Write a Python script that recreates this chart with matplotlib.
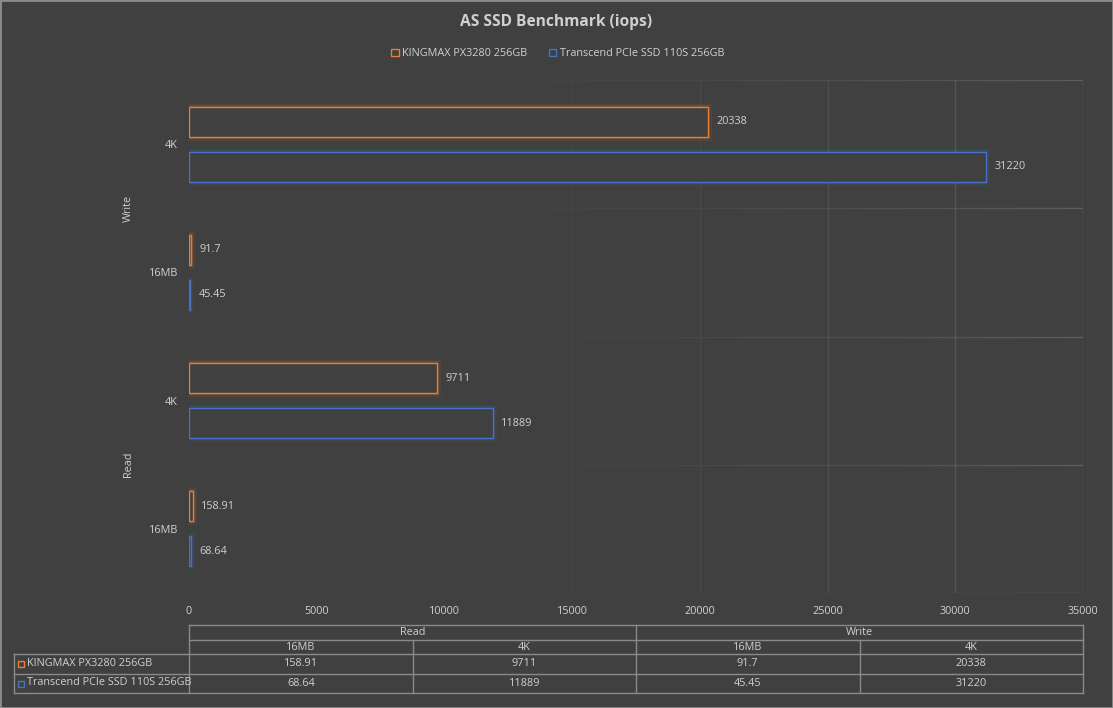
import matplotlib
matplotlib.use('Agg')
import matplotlib.pyplot as plt
import matplotlib.patheffects as pe
from matplotlib.patches import Patch, Rectangle
from matplotlib.collections import LineCollection
from matplotlib.transforms import blended_transform_factory
import numpy as np

plt.rcParams['font.family'] = ['Open Sans', 'DejaVu Sans']

# data
groups = ['Read', 'Write']
sizes = ['16MB', '4K']
series = ['KINGMAX PX3280 256GB', 'Transcend PCIe SSD 110S 256GB']
kingmax = [158.91, 9711, 91.7, 20338]     # Read 16MB, Read 4K, Write 16MB, Write 4K
transcend = [68.64, 11889, 45.45, 31220]
x_ticks = [0, 5000, 10000, 15000, 20000, 25000, 30000, 35000]

BG = '#404040'
TXT = '#d0d0d0'
ORANGE = '#ED7D31'
BLUE = '#4472C4'
FS = 7.8
W, H = 1113, 708


def glow(color):
  return [pe.Stroke(linewidth=5, foreground=color, alpha=0.08),
          pe.Stroke(linewidth=3, foreground=color, alpha=0.15),
          pe.Normal()]


def grad_line(ax, xs, ys, n=80):
  # grid lines fade out towards the left
  xx = np.linspace(xs[0], xs[1], n)
  yy = np.linspace(ys[0], ys[1], n)
  pts = np.column_stack([xx, yy])
  segs = np.stack([pts[:-1], pts[1:]], axis=1)
  xm = (xx[:-1] + xx[1:]) / 2
  a = np.clip(xm / x_ticks[-1], 0, 1) ** 2.2
  cols = [(0.37, 0.37, 0.37, v) for v in a]
  ax.add_collection(LineCollection(segs, colors=cols, linewidths=1, zorder=0))


def barchart():
  fig = plt.figure(figsize=(W / 100, H / 100), dpi=100, facecolor=BG)
  ax = fig.add_axes([189 / W, 115 / H, 894 / W, 513 / H], facecolor=BG)

  n = len(kingmax)
  pos = np.arange(n)
  h = 0.234
  off = 0.176

  ob = ax.barh(pos + off, kingmax, height=h, facecolor=BG, edgecolor=ORANGE, linewidth=1.0, zorder=3)
  bb = ax.barh(pos - off, transcend, height=h, facecolor=BG, edgecolor=BLUE, linewidth=1.0, zorder=3)
  for p in ob:
    p.set_path_effects(glow(ORANGE))
  for p in bb:
    p.set_path_effects(glow(BLUE))

  for y, v in zip(pos + off, kingmax):
    ax.annotate(f'{v:g}', (v, y), xytext=(6, 0), textcoords='offset points',
                va='center', ha='left', fontsize=FS, color=TXT)
  for y, v in zip(pos - off, transcend):
    ax.annotate(f'{v:g}', (v, y), xytext=(6, 0), textcoords='offset points',
                va='center', ha='left', fontsize=FS, color=TXT)

  ax.set_xlim(x_ticks[0], x_ticks[-1])
  ax.set_ylim(-0.5, n - 0.5)
  ax.set_xticks(x_ticks)
  ax.set_yticks(pos)
  ax.set_yticklabels(sizes * len(groups))
  ax.tick_params(axis='both', length=0, colors=TXT, labelsize=FS)
  ax.tick_params(axis='x', pad=9)
  ax.tick_params(axis='y', pad=8)
  for s in ax.spines.values():
    s.set_visible(False)

  for yv in np.arange(-0.5, n, 1.0):
    grad_line(ax, (x_ticks[0], x_ticks[-1]), (yv, yv))
  for xv in x_ticks[1:]:
    grad_line(ax, (xv, xv), (-0.5, n - 0.5), n=2)

  tr = blended_transform_factory(fig.transFigure, ax.transData)
  for i, g in enumerate(groups):
    fig.text(128 / W, i * 2 + 0.5, g, transform=tr, rotation=90, ha='center', va='center',
             fontsize=FS, color=TXT)

  fig.text(0.5, 1 - 22 / H, 'AS SSD Benchmark (iops)', ha='center', va='center',
           fontsize=11.2, fontweight='bold', color=TXT)
  handles = [Patch(facecolor='none', edgecolor=ORANGE, label=series[0]),
             Patch(facecolor='none', edgecolor=BLUE, label=series[1])]
  fig.legend(handles=handles, loc='center', bbox_to_anchor=(558 / W, 1 - 54 / H), ncol=2,
             frameon=False, fontsize=FS, labelcolor=TXT, handlelength=0.65, handleheight=0.65,
             handletextpad=0.35, columnspacing=2.0)

  # data table under the chart
  tax = fig.add_axes([0, 0, 1, 1])
  tax.set_xlim(0, W)
  tax.set_ylim(H, 0)
  tax.axis('off')
  x0, x1 = 189, 1083
  ncol = len(groups) * len(sizes)
  cw = (x1 - x0) / ncol
  rows = [625, 640, 654, 674, 693]
  lc = '#8a8a8a'
  kw = dict(color=lc, lw=1)
  tax.plot([x0, x1], [rows[0], rows[0]], **kw)
  tax.plot([x0, x1], [rows[1], rows[1]], **kw)
  for r in rows[2:]:
    tax.plot([14, x1], [r, r], **kw)
  tax.plot([14, 14], [rows[2], rows[4]], **kw)
  tax.plot([x0, x0], [rows[0], rows[4]], **kw)
  tax.plot([x1, x1], [rows[0], rows[4]], **kw)
  for gi, g in enumerate(groups):
    gx = x0 + gi * len(sizes) * cw
    if gi > 0:
      tax.plot([gx, gx], [rows[0], rows[4]], **kw)
    tax.text(gx + len(sizes) * cw / 2, (rows[0] + rows[1]) / 2, g, ha='center', va='center',
             fontsize=FS, color=TXT)
  for c in range(ncol):
    cx = x0 + c * cw
    if c % len(sizes):
      tax.plot([cx, cx], [rows[1], rows[4]], **kw)
    tax.text(cx + cw / 2, (rows[1] + rows[2]) / 2, sizes[c % len(sizes)], ha='center',
             va='center', fontsize=FS, color=TXT)
    tax.text(cx + cw / 2, (rows[2] + rows[3]) / 2, f'{kingmax[c]:g}', ha='center',
             va='center', fontsize=FS, color=TXT)
    tax.text(cx + cw / 2, (rows[3] + rows[4]) / 2, f'{transcend[c]:g}', ha='center',
             va='center', fontsize=FS, color=TXT)
  for ri, (name, col) in enumerate(zip(series, [ORANGE, BLUE])):
    ym = (rows[2 + ri] + rows[3 + ri]) / 2
    tax.add_patch(Rectangle((18, ym - 3), 6, 6, facecolor='none', edgecolor=col, lw=1))
    tax.text(27, ym - 1, name, ha='left', va='center', fontsize=FS, color=TXT)

  fig.add_artist(Rectangle((0, 0), 1, 1, transform=fig.transFigure, facecolor='none',
                           edgecolor='#8c8c8c', lw=2))
  fig.savefig('out.png', dpi=100, facecolor=BG)


if __name__ == "__main__":
  barchart()
